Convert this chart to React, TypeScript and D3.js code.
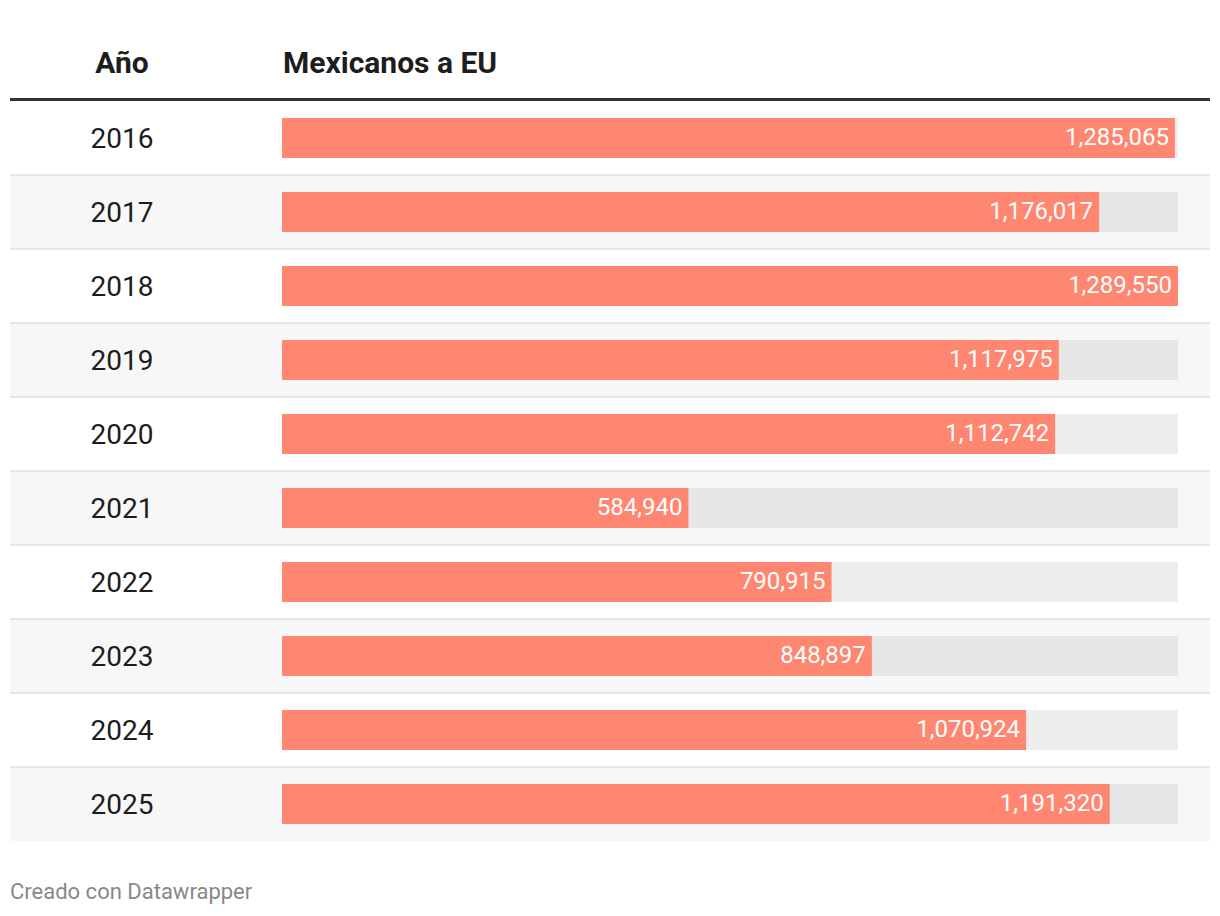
import React, { useEffect, useRef } from 'react';
import * as d3 from 'd3';

const years = ['2016', '2017', '2018', '2019', '2020', '2021', '2022', '2023', '2024', '2025'];
const values = [1285065, 1176017, 1289550, 1117975, 1112742, 584940, 790915, 848897, 1070924, 1191320];
const headers = ['Año', 'Mexicanos a EU'];
const footer = 'Creado con Datawrapper';

const W = 1220;
const H = 916;

const App: React.FC = () => {
  const svgRef = useRef<SVGSVGElement>(null);

  useEffect(() => {
    document.body.style.margin = '0';
    if (!svgRef.current) return;
    const svg = d3.select(svgRef.current);
    svg.selectAll('*').remove();

    const font = 'Roboto, "Noto Sans", sans-serif';
    const tableLeft = 10;
    const tableRight = 1210;
    const top = 101;
    const rowH = 74;
    const barH = 40;
    const barX0 = 282;
    const barX1 = 1178;

    const x = d3.scaleLinear().domain([0, d3.max(values) as number]).range([barX0, barX1]);
    const y = d3.scaleBand<string>().domain(years).range([top, top + rowH * years.length]);

    // header
    svg.append('text')
      .attr('x', 122).attr('y', 73)
      .attr('text-anchor', 'middle')
      .style('font-family', font).style('font-size', '30px').style('font-weight', 700)
      .style('fill', '#1d1d1d')
      .text(headers[0]);
    svg.append('text')
      .attr('x', 283).attr('y', 73)
      .style('font-family', font).style('font-size', '30px').style('font-weight', 700)
      .style('fill', '#1d1d1d')
      .text(headers[1]);

    const rows = svg.append('g').selectAll('g').data(years).join('g')
      .attr('transform', d => `translate(0, ${y(d)})`);

    rows.append('rect')
      .attr('x', tableLeft).attr('width', tableRight - tableLeft)
      .attr('y', 0).attr('height', rowH)
      .attr('fill', (_, i) => (i % 2 === 1 ? '#f7f7f7' : '#ffffff'));

    // row separators
    rows.filter((_, i) => i > 0).append('rect')
      .attr('x', tableLeft).attr('width', tableRight - tableLeft)
      .attr('y', -1).attr('height', 2)
      .attr('fill', '#e8e8e8');

    const by = 17;

    rows.append('rect')
      .attr('x', barX0).attr('width', barX1 - barX0)
      .attr('y', by).attr('height', barH)
      .attr('fill', (_, i) => (i % 2 === 1 ? '#e6e6e6' : '#eeeeee'));

    rows.append('rect')
      .attr('x', barX0).attr('width', (_, i) => x(values[i]) - barX0)
      .attr('y', by).attr('height', barH)
      .attr('fill', '#ff8670');

    rows.append('text')
      .attr('x', (_, i) => x(values[i]) - 6)
      .attr('y', 44)
      .attr('text-anchor', 'end')
      .style('font-family', font).style('font-size', '24px')
      .style('fill', '#ffffff')
      .text((_, i) => d3.format(',')(values[i]));

    rows.append('text')
      .attr('x', 122)
      .attr('y', 47)
      .attr('text-anchor', 'middle')
      .style('font-family', font).style('font-size', '28px')
      .style('fill', '#1d1d1d')
      .text(d => d);

    // header rule
    svg.append('rect')
      .attr('x', tableLeft).attr('width', tableRight - tableLeft)
      .attr('y', 98).attr('height', 3)
      .attr('fill', '#333333');

    svg.append('text')
      .attr('x', 10).attr('y', 899)
      .style('font-family', font).style('font-size', '22px')
      .style('fill', '#888888')
      .text(footer);
  }, []);

  return <svg ref={svgRef} width={W} height={H} style={{ display: 'block' }} />;
};

export default App;
